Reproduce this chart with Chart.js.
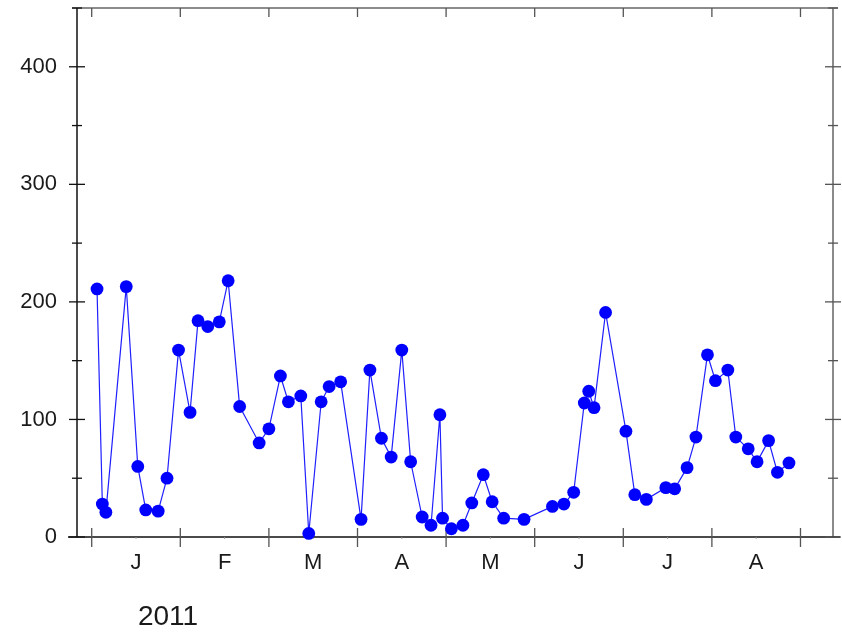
<!DOCTYPE html>
<html>
<head>
<meta charset="utf-8">
<script src="https://cdn.jsdelivr.net/npm/chart.js@4/dist/chart.umd.min.js"></script>
<style>
  html, body { margin: 0; padding: 0; background: #fff; }
  #wrap { width: 842px; height: 632px; }
</style>
</head>
<body>
<div id="wrap"><canvas id="chart" width="842" height="632"></canvas></div>
<script>
// position along the axis in months from 1 Jan 2011 (0 = Jan, 1 = Feb, ...)
var monthPos = [
  0.06, 0.12, 0.16, 0.39, 0.52, 0.61, 0.75, 0.85, 0.98, 1.11,
  1.20, 1.31, 1.44, 1.54, 1.67, 1.89, 2.00, 2.13, 2.22, 2.36,
  2.45, 2.59, 2.68, 2.81, 3.04, 3.14, 3.27, 3.38, 3.50, 3.60,
  3.73, 3.83, 3.93, 3.96, 4.06, 4.19, 4.29, 4.42, 4.52, 4.65,
  4.88, 5.20, 5.33, 5.44, 5.56, 5.61, 5.67, 5.80, 6.03, 6.13,
  6.26, 6.48, 6.58, 6.72, 6.82, 6.95, 7.04, 7.18, 7.27, 7.41,
  7.51, 7.64, 7.74, 7.87
];
var values = [
  211, 28, 21, 213, 60, 23, 22, 50, 159, 106,
  184, 179, 183, 218, 111, 80, 92, 137, 115, 120,
  3, 115, 128, 132, 15, 142, 84, 68, 159, 64,
  17, 10, 104, 16, 7, 10, 29, 53, 30, 16,
  15, 26, 28, 38, 114, 124, 110, 191, 90, 36,
  32, 42, 41, 59, 85, 155, 133, 142, 85, 75,
  64, 82, 55, 63
];
var monthLabels = ["J", "F", "M", "A", "M", "J", "J", "A"];
var yMajor = [0, 100, 200, 300, 400];
var yMinor = [50, 150, 250, 350, 450];
var yearLabel = "2011";

var points = monthPos.map(function(m, i) { return { x: m, y: values[i] }; });

var frame = {
  id: 'frame',
  beforeDatasetsDraw: function(chart) {
    var c = chart.ctx, a = chart.chartArea;
    var xs = chart.scales.x, ys = chart.scales.y;
    c.save();
    c.lineCap = 'butt';

    // top and right border (grey)
    c.strokeStyle = '#666';
    c.lineWidth = 1.5;
    c.beginPath();
    c.moveTo(a.left - 5, a.top); c.lineTo(a.right + 5, a.top);
    c.moveTo(a.right, a.top); c.lineTo(a.right, a.bottom);
    c.stroke();

    // left and bottom axes (black)
    c.strokeStyle = '#111';
    c.beginPath();
    c.moveTo(a.left, a.top); c.lineTo(a.left, a.bottom);
    c.moveTo(a.left - 9, a.bottom); c.lineTo(a.right + 7, a.bottom);
    c.stroke();

    // y ticks, crossing both vertical axes
    c.lineWidth = 1.3;
    yMajor.forEach(function(v) {
      var p = ys.getPixelForValue(v);
      c.strokeStyle = '#111';
      c.beginPath(); c.moveTo(a.left - 8, p); c.lineTo(a.left + 8, p); c.stroke();
      c.strokeStyle = '#555';
      c.beginPath(); c.moveTo(a.right - 8, p); c.lineTo(a.right + 8, p); c.stroke();
    });
    yMinor.forEach(function(v) {
      var p = ys.getPixelForValue(v);
      c.strokeStyle = '#111';
      c.beginPath(); c.moveTo(a.left - 5, p); c.lineTo(a.left + 5, p); c.stroke();
      c.strokeStyle = '#555';
      c.beginPath(); c.moveTo(a.right - 5, p); c.lineTo(a.right + 5, p); c.stroke();
    });

    // x ticks: month boundaries, crossing bottom axis, inward on top
    c.strokeStyle = '#555';
    for (var m = 0; m <= monthLabels.length; m++) {
      var px = xs.getPixelForValue(m);
      c.beginPath();
      c.moveTo(px, a.bottom - 9); c.lineTo(px, a.bottom + 10);
      c.moveTo(px, a.top); c.lineTo(px, a.top + 9);
      c.stroke();
    }
    c.strokeStyle = '#999';
    c.lineWidth = 1;
    for (var k = 0; k < monthLabels.length; k++) {
      var mx = xs.getPixelForValue(k + 0.5);
      c.beginPath(); c.moveTo(mx, a.bottom); c.lineTo(mx, a.bottom + 2); c.stroke();
    }

    // labels
    c.fillStyle = '#1a1a1a';
    c.font = '22px "Liberation Sans", Arial, sans-serif';
    c.textAlign = 'right';
    c.textBaseline = 'middle';
    yMajor.forEach(function(v) {
      c.fillText(String(v), a.left - 20, ys.getPixelForValue(v));
    });
    c.textAlign = 'center';
    monthLabels.forEach(function(lab, i) {
      c.fillText(lab, xs.getPixelForValue(i + 0.5), a.bottom + 26);
    });
    c.font = '28px "Liberation Sans", Arial, sans-serif';
    c.fillText(yearLabel, xs.getPixelForValue(0.5) + 32, a.bottom + 80);
    c.restore();
  }
};

new Chart(document.getElementById('chart'), {
  type: 'line',
  data: {
    datasets: [{
      data: points,
      borderColor: '#1f1fff',
      borderWidth: 1.2,
      backgroundColor: '#0000ff',
      pointBackgroundColor: '#0000ff',
      pointBorderWidth: 0,
      pointRadius: 6.4,
      tension: 0,
      clip: false
    }]
  },
  options: {
    responsive: false,
    animation: false,
    events: [],
    layout: { padding: { left: 77, right: 9, top: 8, bottom: 95 } },
    plugins: { legend: { display: false }, tooltip: { enabled: false } },
    scales: {
      x: { type: 'linear', display: false, min: -0.166, max: 8.367 },
      y: { type: 'linear', display: false, min: 0, max: 450 }
    }
  },
  plugins: [frame]
});
</script>
</body>
</html>
